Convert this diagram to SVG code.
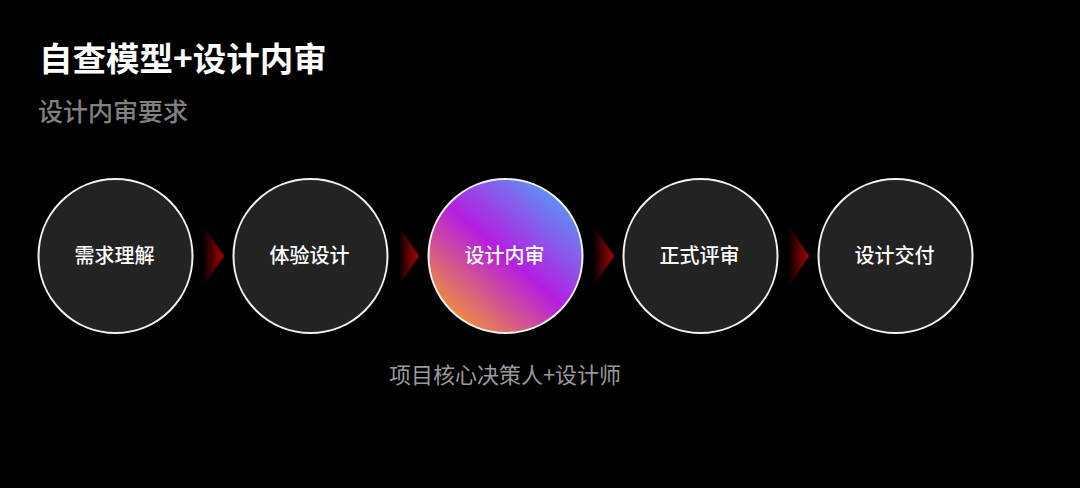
<svg xmlns="http://www.w3.org/2000/svg" width="1080" height="488" viewBox="0 0 1080 488">
<defs>
<style>
.cjk{font-family:"Noto Sans CJK SC","Noto Sans",sans-serif;}
.node circle{fill:#232323;stroke:#f2f2f2;stroke-width:2;}
.node text{fill:#fff;font-size:20px;font-weight:500;text-anchor:middle;}
.arrow{fill:url(#ag);}
</style>
<linearGradient id="ag" x1="0" y1="0" x2="1" y2="0">
<stop offset="0" stop-color="#000"/>
<stop offset="1" stop-color="#b00000"/>
</linearGradient>
<linearGradient id="mg" x1="0.85" y1="0.1" x2="0.15" y2="0.9">
<stop offset="0" stop-color="#5b95f5"/>
<stop offset="0.5" stop-color="#b51de0"/>
<stop offset="1" stop-color="#f0903a"/>
</linearGradient>
</defs>
<rect width="1080" height="488" fill="#000"/>
<text class="cjk" x="39" y="71" font-size="33.5" font-weight="bold" fill="#fff">自查模型+设计内审</text>
<text class="cjk" x="38" y="121" font-size="25" font-weight="500" fill="#808080">设计内审要求</text>
<g id="connectors">
<polygon class="arrow" points="203,225 224,256 203,287"/>
<polygon class="arrow" points="398,225 419,256 398,287"/>
<polygon class="arrow" points="593,225 614,256 593,287"/>
<polygon class="arrow" points="788,225 809,256 788,287"/>
</g>
<g id="n1" class="node cjk"><circle cx="115.5" cy="256" r="77"/><text x="114.5" y="263">需求理解</text></g>
<g id="n2" class="node cjk"><circle cx="310.5" cy="256" r="77"/><text x="309.5" y="263">体验设计</text></g>
<g id="n3" class="node cjk"><circle cx="505.5" cy="256" r="77" style="fill:url(#mg)"/><text x="504.5" y="263">设计内审</text></g>
<g id="n4" class="node cjk"><circle cx="700.5" cy="256" r="77"/><text x="699.5" y="263">正式评审</text></g>
<g id="n5" class="node cjk"><circle cx="895.5" cy="256" r="77"/><text x="894.5" y="263">设计交付</text></g>
<text class="cjk" x="505" y="383" font-size="22" fill="#9a9a9a" text-anchor="middle">项目核心决策人+设计师</text>
</svg>
